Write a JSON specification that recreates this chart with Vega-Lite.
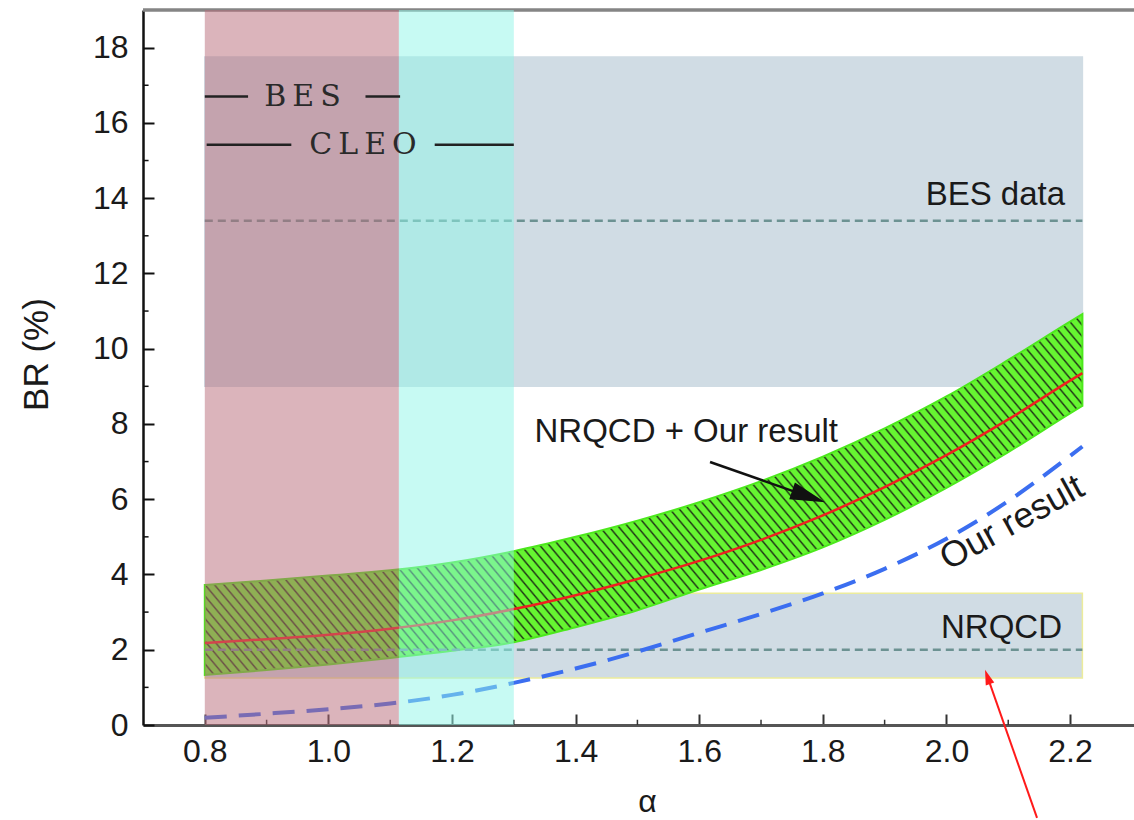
{
"$schema":"https://vega.github.io/schema/vega-lite/v6.json",
"width":991,"height":715,
"autosize":{"type":"none"},
"padding":{"left":143,"top":10,"right":0,"bottom":95},
"background":"#ffffff",
"view":{"stroke":null},
"datasets":{
"bands":[{"band":"BES data","a0":0.8,"a1":2.22,"lo":9.0,"hi":17.75},{"band":"NRQCD","a0":0.8,"a1":2.22,"lo":1.25,"hi":3.5}],
"refs":[{"band":"BES data","a0":0.8,"a1":2.22,"v":13.4},{"band":"NRQCD","a0":0.8,"a1":2.22,"v":2.0}],
"curves":[
{"a":0.8,"c":2.18,"lo":1.33,"hi":3.72,"ours":0.19},
{"a":0.9,"c":2.28,"lo":1.46,"hi":3.84,"ours":0.3},
{"a":1.0,"c":2.4,"lo":1.61,"hi":3.97,"ours":0.42},
{"a":1.1,"c":2.56,"lo":1.78,"hi":4.11,"ours":0.57},
{"a":1.2,"c":2.78,"lo":1.97,"hi":4.32,"ours":0.8},
{"a":1.3,"c":3.08,"lo":2.2,"hi":4.62,"ours":1.12},
{"a":1.4,"c":3.45,"lo":2.6,"hi":5.0,"ours":1.5},
{"a":1.5,"c":3.88,"lo":3.05,"hi":5.43,"ours":1.95},
{"a":1.6,"c":4.36,"lo":3.6,"hi":5.92,"ours":2.45},
{"a":1.7,"c":4.92,"lo":4.12,"hi":6.48,"ours":2.95},
{"a":1.8,"c":5.57,"lo":4.72,"hi":7.13,"ours":3.5},
{"a":1.9,"c":6.32,"lo":5.45,"hi":7.88,"ours":4.15},
{"a":2.0,"c":7.17,"lo":6.3,"hi":8.73,"ours":4.95},
{"a":2.1,"c":8.12,"lo":7.25,"hi":9.7,"ours":5.95},
{"a":2.2,"c":9.15,"lo":8.28,"hi":10.72,"ours":7.15},
{"a":2.22,"c":9.35,"lo":8.48,"hi":10.92,"ours":7.4}],
"exp":[{"exp":"BES","a0":0.8,"a1":1.114,"lo":0,"hi":19},{"exp":"CLEO","a0":1.114,"a1":1.3,"lo":0,"hi":19}],
"ranges":[{"exp":"BES","a0":0.8,"a1":0.87,"v":16.7},{"exp":"BES","a0":1.06,"a1":1.116,"v":16.7},{"exp":"CLEO","a0":0.803,"a1":0.94,"v":15.42},{"exp":"CLEO","a0":1.172,"a1":1.3,"v":15.42}],
"explabels":[{"t":"B\u2009E\u2009S","a":0.958,"v":16.7},{"t":"C\u2009L\u2009E\u2009O","a":1.056,"v":15.42}],
"labels":[{"t":"BES data","a":2.192,"v":14.08},{"t":"NRQCD","a":2.187,"v":2.59}],
"label2":[{"t":"NRQCD + Our result","a":1.579,"v":7.78}],
"rot":[{"t":"Our result","a":2.106,"v":5.37}],
"arrow":[{"a0":1.6175,"v0":6.99,"a1":1.777,"v1":6.07}],
"redarrow":[{"a0":2.1466,"v0":-2.47,"a1":2.0665,"v1":1.28}],
"minorX":[{"a":0.9},{"a":1.1},{"a":1.3},{"a":1.5},{"a":1.7},{"a":1.9},{"a":2.1}],
"minorY":[{"v":1},{"v":3},{"v":5},{"v":7},{"v":9},{"v":11},{"v":13},{"v":15},{"v":17}]
},
"layer":[
{"data":{"name":"bands"},"mark":{"type":"rect","strokeWidth":1.5},
 "encoding":{
  "x":{"field":"a0","type":"quantitative","scale":{"domain":[0.7,2.3035],"nice":false,"zero":false},
   "axis":{"title":"α","values":[0.8,1,1.2,1.4,1.6,1.8,2,2.2],"format":".1f","grid":false,"labelFont":"Liberation Sans","labelFontSize":32,"labelColor":"#1a1a1a","labelPadding":22,"labelFlush":false,"labelOverlap":false,"tickSize":-11,"tickWidth":2,"tickColor":"#333333","domainColor":"#555555","domainWidth":3,"titleFont":"Liberation Sans","titleFontSize":32,"titleFontWeight":"normal","titleColor":"#1a1a1a","titleX":504,"titleY":93,"titleBaseline":"bottom","titleAlign":"center"}},
  "x2":{"field":"a1"},
  "y":{"field":"lo","type":"quantitative","scale":{"domain":[0,19],"nice":false,"zero":false},
   "axis":{"title":"BR (%)","values":[0,2,4,6,8,10,12,14,16,18],"grid":false,"labelFont":"Liberation Sans","labelFontSize":32,"labelColor":"#1a1a1a","labelPadding":26,"labelFlush":false,"labelOverlap":false,"tickSize":-11,"tickWidth":2,"tickColor":"#111111","domainColor":"#111111","domainWidth":2.5,"titleFont":"Liberation Sans","titleFontSize":35,"titleFontWeight":"normal","titleColor":"#1a1a1a","titleX":-107,"titleY":344,"titleAngle":-90,"titleBaseline":"middle","titleAlign":"center"}},
  "y2":{"field":"hi"},
  "fill":{"value":"#d0dce4"},
  "stroke":{"field":"band","type":"nominal","scale":{"domain":["BES data","NRQCD"],"range":["#d0dce4","#ecec9c"]},"legend":null}
 }},
{"data":{"name":"minorX"},"mark":{"type":"rule","color":"#333333","strokeWidth":1.5},
 "encoding":{"x":{"field":"a","type":"quantitative","scale":{"domain":[0.7,2.3035],"nice":false,"zero":false}},
  "y":{"datum":0,"type":"quantitative","scale":{"domain":[0,19],"nice":false,"zero":false}},"y2":{"datum":0.14}}},
{"data":{"name":"minorY"},"mark":{"type":"rule","color":"#111111","strokeWidth":1.5},
 "encoding":{"y":{"field":"v","type":"quantitative","scale":{"domain":[0,19],"nice":false,"zero":false}},
  "x":{"datum":0.7,"type":"quantitative","scale":{"domain":[0.7,2.3035],"nice":false,"zero":false}},"x2":{"datum":0.709}}},
{"data":{"values":[{}]},"mark":{"type":"rule","color":"#858585","strokeWidth":3.5},
 "encoding":{"y":{"datum":19,"type":"quantitative","scale":{"domain":[0,19],"nice":false,"zero":false}}}},
{"data":{"name":"curves"},"mark":{"type":"area","interpolate":"monotone","stroke":"#4ce81c","strokeWidth":2,
 "fill":{"gradient":"linear","x1":0,"y1":1,"x2":1.2016,"y2":0.5882,"stops":[
{"offset":0,"color":"#1f3316"},{"offset":0.0016,"color":"#66f531"},{"offset":0.0064,"color":"#66f531"},
{"offset":0.008,"color":"#1f3316"},{"offset":0.0096,"color":"#66f531"},{"offset":0.0144,"color":"#66f531"},
{"offset":0.016,"color":"#1f3316"},{"offset":0.0176,"color":"#66f531"},{"offset":0.0224,"color":"#66f531"},
{"offset":0.024,"color":"#1f3316"},{"offset":0.0256,"color":"#66f531"},{"offset":0.0304,"color":"#66f531"},
{"offset":0.032,"color":"#1f3316"},{"offset":0.0336,"color":"#66f531"},{"offset":0.0384,"color":"#66f531"},
{"offset":0.04,"color":"#1f3316"},{"offset":0.0416,"color":"#66f531"},{"offset":0.0464,"color":"#66f531"},
{"offset":0.048,"color":"#1f3316"},{"offset":0.0496,"color":"#66f531"},{"offset":0.0544,"color":"#66f531"},
{"offset":0.056,"color":"#1f3316"},{"offset":0.0576,"color":"#66f531"},{"offset":0.0624,"color":"#66f531"},
{"offset":0.064,"color":"#1f3316"},{"offset":0.0656,"color":"#66f531"},{"offset":0.0704,"color":"#66f531"},
{"offset":0.072,"color":"#1f3316"},{"offset":0.0736,"color":"#66f531"},{"offset":0.0784,"color":"#66f531"},
{"offset":0.08,"color":"#1f3316"},{"offset":0.0816,"color":"#66f531"},{"offset":0.0864,"color":"#66f531"},
{"offset":0.088,"color":"#1f3316"},{"offset":0.0896,"color":"#66f531"},{"offset":0.0944,"color":"#66f531"},
{"offset":0.096,"color":"#1f3316"},{"offset":0.0976,"color":"#66f531"},{"offset":0.1024,"color":"#66f531"},
{"offset":0.104,"color":"#1f3316"},{"offset":0.1056,"color":"#66f531"},{"offset":0.1104,"color":"#66f531"},
{"offset":0.112,"color":"#1f3316"},{"offset":0.1136,"color":"#66f531"},{"offset":0.1184,"color":"#66f531"},
{"offset":0.12,"color":"#1f3316"},{"offset":0.1216,"color":"#66f531"},{"offset":0.1264,"color":"#66f531"},
{"offset":0.128,"color":"#1f3316"},{"offset":0.1296,"color":"#66f531"},{"offset":0.1344,"color":"#66f531"},
{"offset":0.136,"color":"#1f3316"},{"offset":0.1376,"color":"#66f531"},{"offset":0.1424,"color":"#66f531"},
{"offset":0.144,"color":"#1f3316"},{"offset":0.1456,"color":"#66f531"},{"offset":0.1504,"color":"#66f531"},
{"offset":0.152,"color":"#1f3316"},{"offset":0.1536,"color":"#66f531"},{"offset":0.1584,"color":"#66f531"},
{"offset":0.16,"color":"#1f3316"},{"offset":0.1616,"color":"#66f531"},{"offset":0.1664,"color":"#66f531"},
{"offset":0.168,"color":"#1f3316"},{"offset":0.1696,"color":"#66f531"},{"offset":0.1744,"color":"#66f531"},
{"offset":0.176,"color":"#1f3316"},{"offset":0.1776,"color":"#66f531"},{"offset":0.1824,"color":"#66f531"},
{"offset":0.184,"color":"#1f3316"},{"offset":0.1856,"color":"#66f531"},{"offset":0.1904,"color":"#66f531"},
{"offset":0.192,"color":"#1f3316"},{"offset":0.1936,"color":"#66f531"},{"offset":0.1984,"color":"#66f531"},
{"offset":0.2,"color":"#1f3316"},{"offset":0.2016,"color":"#66f531"},{"offset":0.2064,"color":"#66f531"},
{"offset":0.208,"color":"#1f3316"},{"offset":0.2096,"color":"#66f531"},{"offset":0.2144,"color":"#66f531"},
{"offset":0.216,"color":"#1f3316"},{"offset":0.2176,"color":"#66f531"},{"offset":0.2224,"color":"#66f531"},
{"offset":0.224,"color":"#1f3316"},{"offset":0.2256,"color":"#66f531"},{"offset":0.2304,"color":"#66f531"},
{"offset":0.232,"color":"#1f3316"},{"offset":0.2336,"color":"#66f531"},{"offset":0.2384,"color":"#66f531"},
{"offset":0.24,"color":"#1f3316"},{"offset":0.2416,"color":"#66f531"},{"offset":0.2464,"color":"#66f531"},
{"offset":0.248,"color":"#1f3316"},{"offset":0.2496,"color":"#66f531"},{"offset":0.2544,"color":"#66f531"},
{"offset":0.256,"color":"#1f3316"},{"offset":0.2576,"color":"#66f531"},{"offset":0.2624,"color":"#66f531"},
{"offset":0.264,"color":"#1f3316"},{"offset":0.2656,"color":"#66f531"},{"offset":0.2704,"color":"#66f531"},
{"offset":0.272,"color":"#1f3316"},{"offset":0.2736,"color":"#66f531"},{"offset":0.2784,"color":"#66f531"},
{"offset":0.28,"color":"#1f3316"},{"offset":0.2816,"color":"#66f531"},{"offset":0.2864,"color":"#66f531"},
{"offset":0.288,"color":"#1f3316"},{"offset":0.2896,"color":"#66f531"},{"offset":0.2944,"color":"#66f531"},
{"offset":0.296,"color":"#1f3316"},{"offset":0.2976,"color":"#66f531"},{"offset":0.3024,"color":"#66f531"},
{"offset":0.304,"color":"#1f3316"},{"offset":0.3056,"color":"#66f531"},{"offset":0.3104,"color":"#66f531"},
{"offset":0.312,"color":"#1f3316"},{"offset":0.3136,"color":"#66f531"},{"offset":0.3184,"color":"#66f531"},
{"offset":0.32,"color":"#1f3316"},{"offset":0.3216,"color":"#66f531"},{"offset":0.3264,"color":"#66f531"},
{"offset":0.328,"color":"#1f3316"},{"offset":0.3296,"color":"#66f531"},{"offset":0.3344,"color":"#66f531"},
{"offset":0.336,"color":"#1f3316"},{"offset":0.3376,"color":"#66f531"},{"offset":0.3424,"color":"#66f531"},
{"offset":0.344,"color":"#1f3316"},{"offset":0.3456,"color":"#66f531"},{"offset":0.3504,"color":"#66f531"},
{"offset":0.352,"color":"#1f3316"},{"offset":0.3536,"color":"#66f531"},{"offset":0.3584,"color":"#66f531"},
{"offset":0.36,"color":"#1f3316"},{"offset":0.3616,"color":"#66f531"},{"offset":0.3664,"color":"#66f531"},
{"offset":0.368,"color":"#1f3316"},{"offset":0.3696,"color":"#66f531"},{"offset":0.3744,"color":"#66f531"},
{"offset":0.376,"color":"#1f3316"},{"offset":0.3776,"color":"#66f531"},{"offset":0.3824,"color":"#66f531"},
{"offset":0.384,"color":"#1f3316"},{"offset":0.3856,"color":"#66f531"},{"offset":0.3904,"color":"#66f531"},
{"offset":0.392,"color":"#1f3316"},{"offset":0.3936,"color":"#66f531"},{"offset":0.3984,"color":"#66f531"},
{"offset":0.4,"color":"#1f3316"},{"offset":0.4016,"color":"#66f531"},{"offset":0.4064,"color":"#66f531"},
{"offset":0.408,"color":"#1f3316"},{"offset":0.4096,"color":"#66f531"},{"offset":0.4144,"color":"#66f531"},
{"offset":0.416,"color":"#1f3316"},{"offset":0.4176,"color":"#66f531"},{"offset":0.4224,"color":"#66f531"},
{"offset":0.424,"color":"#1f3316"},{"offset":0.4256,"color":"#66f531"},{"offset":0.4304,"color":"#66f531"},
{"offset":0.432,"color":"#1f3316"},{"offset":0.4336,"color":"#66f531"},{"offset":0.4384,"color":"#66f531"},
{"offset":0.44,"color":"#1f3316"},{"offset":0.4416,"color":"#66f531"},{"offset":0.4464,"color":"#66f531"},
{"offset":0.448,"color":"#1f3316"},{"offset":0.4496,"color":"#66f531"},{"offset":0.4544,"color":"#66f531"},
{"offset":0.456,"color":"#1f3316"},{"offset":0.4576,"color":"#66f531"},{"offset":0.4624,"color":"#66f531"},
{"offset":0.464,"color":"#1f3316"},{"offset":0.4656,"color":"#66f531"},{"offset":0.4704,"color":"#66f531"},
{"offset":0.472,"color":"#1f3316"},{"offset":0.4736,"color":"#66f531"},{"offset":0.4784,"color":"#66f531"},
{"offset":0.48,"color":"#1f3316"},{"offset":0.4816,"color":"#66f531"},{"offset":0.4864,"color":"#66f531"},
{"offset":0.488,"color":"#1f3316"},{"offset":0.4896,"color":"#66f531"},{"offset":0.4944,"color":"#66f531"},
{"offset":0.496,"color":"#1f3316"},{"offset":0.4976,"color":"#66f531"},{"offset":0.5024,"color":"#66f531"},
{"offset":0.504,"color":"#1f3316"},{"offset":0.5056,"color":"#66f531"},{"offset":0.5104,"color":"#66f531"},
{"offset":0.512,"color":"#1f3316"},{"offset":0.5136,"color":"#66f531"},{"offset":0.5184,"color":"#66f531"},
{"offset":0.52,"color":"#1f3316"},{"offset":0.5216,"color":"#66f531"},{"offset":0.5264,"color":"#66f531"},
{"offset":0.528,"color":"#1f3316"},{"offset":0.5296,"color":"#66f531"},{"offset":0.5344,"color":"#66f531"},
{"offset":0.536,"color":"#1f3316"},{"offset":0.5376,"color":"#66f531"},{"offset":0.5424,"color":"#66f531"},
{"offset":0.544,"color":"#1f3316"},{"offset":0.5456,"color":"#66f531"},{"offset":0.5504,"color":"#66f531"},
{"offset":0.552,"color":"#1f3316"},{"offset":0.5536,"color":"#66f531"},{"offset":0.5584,"color":"#66f531"},
{"offset":0.56,"color":"#1f3316"},{"offset":0.5616,"color":"#66f531"},{"offset":0.5664,"color":"#66f531"},
{"offset":0.568,"color":"#1f3316"},{"offset":0.5696,"color":"#66f531"},{"offset":0.5744,"color":"#66f531"},
{"offset":0.576,"color":"#1f3316"},{"offset":0.5776,"color":"#66f531"},{"offset":0.5824,"color":"#66f531"},
{"offset":0.584,"color":"#1f3316"},{"offset":0.5856,"color":"#66f531"},{"offset":0.5904,"color":"#66f531"},
{"offset":0.592,"color":"#1f3316"},{"offset":0.5936,"color":"#66f531"},{"offset":0.5984,"color":"#66f531"},
{"offset":0.6,"color":"#1f3316"},{"offset":0.6016,"color":"#66f531"},{"offset":0.6064,"color":"#66f531"},
{"offset":0.608,"color":"#1f3316"},{"offset":0.6096,"color":"#66f531"},{"offset":0.6144,"color":"#66f531"},
{"offset":0.616,"color":"#1f3316"},{"offset":0.6176,"color":"#66f531"},{"offset":0.6224,"color":"#66f531"},
{"offset":0.624,"color":"#1f3316"},{"offset":0.6256,"color":"#66f531"},{"offset":0.6304,"color":"#66f531"},
{"offset":0.632,"color":"#1f3316"},{"offset":0.6336,"color":"#66f531"},{"offset":0.6384,"color":"#66f531"},
{"offset":0.64,"color":"#1f3316"},{"offset":0.6416,"color":"#66f531"},{"offset":0.6464,"color":"#66f531"},
{"offset":0.648,"color":"#1f3316"},{"offset":0.6496,"color":"#66f531"},{"offset":0.6544,"color":"#66f531"},
{"offset":0.656,"color":"#1f3316"},{"offset":0.6576,"color":"#66f531"},{"offset":0.6624,"color":"#66f531"},
{"offset":0.664,"color":"#1f3316"},{"offset":0.6656,"color":"#66f531"},{"offset":0.6704,"color":"#66f531"},
{"offset":0.672,"color":"#1f3316"},{"offset":0.6736,"color":"#66f531"},{"offset":0.6784,"color":"#66f531"},
{"offset":0.68,"color":"#1f3316"},{"offset":0.6816,"color":"#66f531"},{"offset":0.6864,"color":"#66f531"},
{"offset":0.688,"color":"#1f3316"},{"offset":0.6896,"color":"#66f531"},{"offset":0.6944,"color":"#66f531"},
{"offset":0.696,"color":"#1f3316"},{"offset":0.6976,"color":"#66f531"},{"offset":0.7024,"color":"#66f531"},
{"offset":0.704,"color":"#1f3316"},{"offset":0.7056,"color":"#66f531"},{"offset":0.7104,"color":"#66f531"},
{"offset":0.712,"color":"#1f3316"},{"offset":0.7136,"color":"#66f531"},{"offset":0.7184,"color":"#66f531"},
{"offset":0.72,"color":"#1f3316"},{"offset":0.7216,"color":"#66f531"},{"offset":0.7264,"color":"#66f531"},
{"offset":0.728,"color":"#1f3316"},{"offset":0.7296,"color":"#66f531"},{"offset":0.7344,"color":"#66f531"},
{"offset":0.736,"color":"#1f3316"},{"offset":0.7376,"color":"#66f531"},{"offset":0.7424,"color":"#66f531"},
{"offset":0.744,"color":"#1f3316"},{"offset":0.7456,"color":"#66f531"},{"offset":0.7504,"color":"#66f531"},
{"offset":0.752,"color":"#1f3316"},{"offset":0.7536,"color":"#66f531"},{"offset":0.7584,"color":"#66f531"},
{"offset":0.76,"color":"#1f3316"},{"offset":0.7616,"color":"#66f531"},{"offset":0.7664,"color":"#66f531"},
{"offset":0.768,"color":"#1f3316"},{"offset":0.7696,"color":"#66f531"},{"offset":0.7744,"color":"#66f531"},
{"offset":0.776,"color":"#1f3316"},{"offset":0.7776,"color":"#66f531"},{"offset":0.7824,"color":"#66f531"},
{"offset":0.784,"color":"#1f3316"},{"offset":0.7856,"color":"#66f531"},{"offset":0.7904,"color":"#66f531"},
{"offset":0.792,"color":"#1f3316"},{"offset":0.7936,"color":"#66f531"},{"offset":0.7984,"color":"#66f531"},
{"offset":0.8,"color":"#1f3316"},{"offset":0.8016,"color":"#66f531"},{"offset":0.8064,"color":"#66f531"},
{"offset":0.808,"color":"#1f3316"},{"offset":0.8096,"color":"#66f531"},{"offset":0.8144,"color":"#66f531"},
{"offset":0.816,"color":"#1f3316"},{"offset":0.8176,"color":"#66f531"},{"offset":0.8224,"color":"#66f531"},
{"offset":0.824,"color":"#1f3316"},{"offset":0.8256,"color":"#66f531"},{"offset":0.8304,"color":"#66f531"},
{"offset":0.832,"color":"#1f3316"},{"offset":0.8336,"color":"#66f531"},{"offset":0.8384,"color":"#66f531"},
{"offset":0.84,"color":"#1f3316"},{"offset":0.8416,"color":"#66f531"},{"offset":0.8464,"color":"#66f531"},
{"offset":0.848,"color":"#1f3316"},{"offset":0.8496,"color":"#66f531"},{"offset":0.8544,"color":"#66f531"},
{"offset":0.856,"color":"#1f3316"},{"offset":0.8576,"color":"#66f531"},{"offset":0.8624,"color":"#66f531"},
{"offset":0.864,"color":"#1f3316"},{"offset":0.8656,"color":"#66f531"},{"offset":0.8704,"color":"#66f531"},
{"offset":0.872,"color":"#1f3316"},{"offset":0.8736,"color":"#66f531"},{"offset":0.8784,"color":"#66f531"},
{"offset":0.88,"color":"#1f3316"},{"offset":0.8816,"color":"#66f531"},{"offset":0.8864,"color":"#66f531"},
{"offset":0.888,"color":"#1f3316"},{"offset":0.8896,"color":"#66f531"},{"offset":0.8944,"color":"#66f531"},
{"offset":0.896,"color":"#1f3316"},{"offset":0.8976,"color":"#66f531"},{"offset":0.9024,"color":"#66f531"},
{"offset":0.904,"color":"#1f3316"},{"offset":0.9056,"color":"#66f531"},{"offset":0.9104,"color":"#66f531"},
{"offset":0.912,"color":"#1f3316"},{"offset":0.9136,"color":"#66f531"},{"offset":0.9184,"color":"#66f531"},
{"offset":0.92,"color":"#1f3316"},{"offset":0.9216,"color":"#66f531"},{"offset":0.9264,"color":"#66f531"},
{"offset":0.928,"color":"#1f3316"},{"offset":0.9296,"color":"#66f531"},{"offset":0.9344,"color":"#66f531"},
{"offset":0.936,"color":"#1f3316"},{"offset":0.9376,"color":"#66f531"},{"offset":0.9424,"color":"#66f531"},
{"offset":0.944,"color":"#1f3316"},{"offset":0.9456,"color":"#66f531"},{"offset":0.9504,"color":"#66f531"},
{"offset":0.952,"color":"#1f3316"},{"offset":0.9536,"color":"#66f531"},{"offset":0.9584,"color":"#66f531"},
{"offset":0.96,"color":"#1f3316"},{"offset":0.9616,"color":"#66f531"},{"offset":0.9664,"color":"#66f531"},
{"offset":0.968,"color":"#1f3316"},{"offset":0.9696,"color":"#66f531"},{"offset":0.9744,"color":"#66f531"},
{"offset":0.976,"color":"#1f3316"},{"offset":0.9776,"color":"#66f531"},{"offset":0.9824,"color":"#66f531"},
{"offset":0.984,"color":"#1f3316"},{"offset":0.9856,"color":"#66f531"},{"offset":0.9904,"color":"#66f531"},
{"offset":0.992,"color":"#1f3316"},{"offset":0.9936,"color":"#66f531"},{"offset":0.9984,"color":"#66f531"},
{"offset":1,"color":"#1f3316"}]}},
 "encoding":{"x":{"field":"a","type":"quantitative","scale":{"domain":[0.7,2.3035],"nice":false,"zero":false}},
  "y":{"field":"hi","type":"quantitative","scale":{"domain":[0,19],"nice":false,"zero":false}},"y2":{"field":"lo"}}},
{"data":{"name":"refs"},"mark":{"type":"rule","color":"#6c9292","strokeWidth":2.5,"strokeDash":[8,5]},
 "encoding":{"x":{"field":"a0","type":"quantitative","scale":{"domain":[0.7,2.3035],"nice":false,"zero":false}},"x2":{"field":"a1"},
  "y":{"field":"v","type":"quantitative","scale":{"domain":[0,19],"nice":false,"zero":false}}}},
{"data":{"name":"curves"},"mark":{"type":"line","interpolate":"monotone","color":"#ee2020","strokeWidth":2.5},
 "encoding":{"x":{"field":"a","type":"quantitative","scale":{"domain":[0.7,2.3035],"nice":false,"zero":false}},
  "y":{"field":"c","type":"quantitative","scale":{"domain":[0,19],"nice":false,"zero":false}}}},
{"data":{"name":"curves"},"mark":{"type":"line","interpolate":"monotone","color":"#3b6ef0","strokeWidth":4,"strokeDash":[22,12]},
 "encoding":{"x":{"field":"a","type":"quantitative","scale":{"domain":[0.7,2.3035],"nice":false,"zero":false}},
  "y":{"field":"ours","type":"quantitative","scale":{"domain":[0,19],"nice":false,"zero":false}}}},
{"data":{"name":"exp"},"mark":{"type":"rect","opacity":0.5},
 "encoding":{"x":{"field":"a0","type":"quantitative","scale":{"domain":[0.7,2.3035],"nice":false,"zero":false}},"x2":{"field":"a1"},
  "y":{"field":"lo","type":"quantitative","scale":{"domain":[0,19],"nice":false,"zero":false}},"y2":{"field":"hi"},
  "fill":{"field":"exp","type":"nominal","scale":{"domain":["BES","CLEO"],"range":["#b76977","#8ff6e8"]},"legend":null}}},
{"data":{"name":"ranges"},"mark":{"type":"rule","color":"#222222","strokeWidth":2.5},
 "encoding":{"x":{"field":"a0","type":"quantitative","scale":{"domain":[0.7,2.3035],"nice":false,"zero":false}},"x2":{"field":"a1"},
  "y":{"field":"v","type":"quantitative","scale":{"domain":[0,19],"nice":false,"zero":false}}}},
{"data":{"name":"explabels"},"mark":{"type":"text","font":"DejaVu Serif","fontSize":30,"color":"#2a2a2a","align":"center","baseline":"middle"},
 "encoding":{"x":{"field":"a","type":"quantitative","scale":{"domain":[0.7,2.3035],"nice":false,"zero":false}},
  "y":{"field":"v","type":"quantitative","scale":{"domain":[0,19],"nice":false,"zero":false}},"text":{"field":"t"}}},
{"data":{"name":"labels"},"mark":{"type":"text","font":"Liberation Sans","fontSize":33,"color":"#1a1a1a","align":"right","baseline":"middle"},
 "encoding":{"x":{"field":"a","type":"quantitative","scale":{"domain":[0.7,2.3035],"nice":false,"zero":false}},
  "y":{"field":"v","type":"quantitative","scale":{"domain":[0,19],"nice":false,"zero":false}},"text":{"field":"t"}}},
{"data":{"name":"label2"},"mark":{"type":"text","font":"Liberation Sans","fontSize":33,"color":"#1a1a1a","align":"center","baseline":"middle"},
 "encoding":{"x":{"field":"a","type":"quantitative","scale":{"domain":[0.7,2.3035],"nice":false,"zero":false}},
  "y":{"field":"v","type":"quantitative","scale":{"domain":[0,19],"nice":false,"zero":false}},"text":{"field":"t"}}},
{"data":{"name":"rot"},"mark":{"type":"text","font":"Liberation Sans","fontSize":36,"color":"#1a1a1a","align":"center","baseline":"middle","angle":-29},
 "encoding":{"x":{"field":"a","type":"quantitative","scale":{"domain":[0.7,2.3035],"nice":false,"zero":false}},
  "y":{"field":"v","type":"quantitative","scale":{"domain":[0,19],"nice":false,"zero":false}},"text":{"field":"t"}}},
{"data":{"name":"arrow"},"mark":{"type":"rule","color":"#111111","strokeWidth":2.5},
 "encoding":{"x":{"field":"a0","type":"quantitative","scale":{"domain":[0.7,2.3035],"nice":false,"zero":false}},"x2":{"field":"a1"},
  "y":{"field":"v0","type":"quantitative","scale":{"domain":[0,19],"nice":false,"zero":false}},"y2":{"field":"v1"}}},
{"data":{"name":"arrow"},"mark":{"type":"point","shape":"M-1,-0.5L1,0L-1,0.5Z","filled":true,"size":1225,"angle":19,"color":"#111111","opacity":1,"strokeWidth":0},
 "encoding":{"x":{"field":"a1","type":"quantitative","scale":{"domain":[0.7,2.3035],"nice":false,"zero":false}},
  "y":{"field":"v1","type":"quantitative","scale":{"domain":[0,19],"nice":false,"zero":false}}}},
{"data":{"name":"redarrow"},"mark":{"type":"rule","color":"#ff1a1a","strokeWidth":2},
 "encoding":{"x":{"field":"a0","type":"quantitative","scale":{"domain":[0.7,2.3035],"nice":false,"zero":false}},"x2":{"field":"a1"},
  "y":{"field":"v0","type":"quantitative","scale":{"domain":[0,19],"nice":false,"zero":false}},"y2":{"field":"v1"}}},
{"data":{"name":"redarrow"},"mark":{"type":"point","shape":"M-1,-0.6L1,0L-1,0.6Z","filled":true,"size":225,"angle":250.7,"color":"#ff1a1a","opacity":1,"strokeWidth":0},
 "encoding":{"x":{"field":"a1","type":"quantitative","scale":{"domain":[0.7,2.3035],"nice":false,"zero":false}},
  "y":{"field":"v1","type":"quantitative","scale":{"domain":[0,19],"nice":false,"zero":false}}}}
]
}
